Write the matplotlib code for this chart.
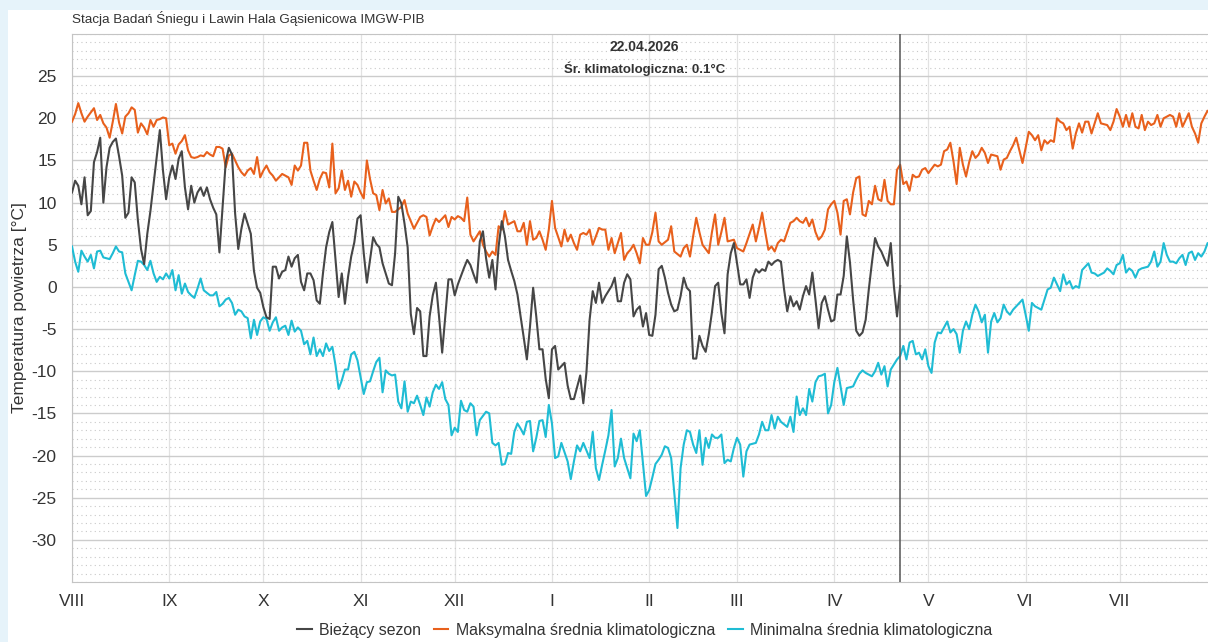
import numpy as np
import matplotlib
matplotlib.use("Agg")
import matplotlib.pyplot as plt
from matplotlib.patches import Rectangle

plt.rcParams["font.family"] = ["Liberation Sans", "DejaVu Sans"]
plt.rcParams["axes.unicode_minus"] = False

# Season runs from 1 August; one row per month
month_labels = ["VIII", "IX", "X", "XI", "XII", "I", "II", "III", "IV", "V", "VI", "VII"]
month_days = [31, 30, 31, 30, 31, 31, 28, 31, 30, 31, 30, 31]

# current season daily mean temperature (1 Aug - 22 Apr)
season = [
    11.2, 12.6, 12.0, 9.8, 13.0, 8.5, 9.0, 14.8, 16.0, 17.7, 10.0, 14.2, 16.5, 17.2, 17.6, 15.5,
    13.2, 8.2, 8.8, 13.0, 12.4, 7.9, 4.5, 2.7, 6.3, 9.0, 12.2, 15.4, 18.6, 13.8, 10.4,
    13.0, 14.4, 12.8, 15.2, 16.1, 11.8, 9.2, 12.0, 10.0, 11.2, 11.8, 10.8, 11.8, 10.4, 9.4,
    8.6, 4.1, 9.4, 14.8, 16.5, 15.7, 8.7, 4.5, 6.9, 8.7, 7.5, 6.3, 1.9, -0.1, -0.7,
    -2.4, -3.6, -3.8, 2.4, 2.4, 1.0, 1.8, 2.0, 3.6, 2.4, 3.4, 3.8, 0.6, -0.4, 1.6, 1.6,
    0.8, -1.6, -2.0, 1.6, 4.7, 6.5, 7.7, 3.2, -1.2, 1.6, -2.0, 1.2, 3.6, 5.3, 8.1,
    8.5, 4.0, 0.5, 3.2, 5.9, 5.1, 4.7, 2.8, 1.6, 0.4, 0.2, 4.0, 10.7, 9.9, 7.5,
    4.7, -3.2, -5.6, -2.5, -2.9, -8.2, -8.2, -3.5, -1.0, 0.5, -3.5, -7.8, -3.5, 0.9, 0.9,
    -1.0, 0.3, 1.3, 2.3, 3.2, 2.6, 1.5, 0.5, 5.4, 6.6, 3.4, 1.1, 3.2, -0.3, 4.8, 7.8,
    6.0, 3.2, 1.9, 0.7, -0.9, -3.5, -6.0, -8.6, -4.7, -0.1, -3.5, -7.4, -7.4, -10.9, -13.2,
    -7.4, -7.0, -9.8, -9.4, -9.0, -11.7, -13.3, -13.3, -11.9, -10.5, -13.8, -10.1, -3.9, -0.5, -1.9, 0.5,
    -1.9, -1.1, -0.5, 0.1, 1.1, -1.7, -1.7, 0.5, 1.5, 0.9, -3.5, -2.7, -2.3, -4.7, -3.1,
    -5.7, -5.8, -3.3, 2.1, 2.5, 1.1, -0.7, -2.1, -2.9, -2.7, -1.1, 1.1, -0.1, -0.5,
    -8.5, -8.5, -5.8, -7.0, -7.7, -5.6, -3.0, 0.1, 0.5, -3.1, -5.5, 1.5, 4.0, 5.2,
    2.8, 0.3, 0.3, 0.9, -1.3, 1.1, 2.1, 1.7, 2.1, 1.9, 3.0, 2.6, 3.0, 3.2, 3.0, -0.3,
    -2.9, -1.1, -2.3, -1.7, -2.7, -1.1, 0.1, -0.9, 1.7, -1.5, -4.9, -1.9, -1.1, -2.7, -4.1,
    -3.9, -0.9, -0.9, 1.3, 6.0, 2.9, -1.5, -5.2, -5.8, -5.4, -3.9,
    -0.3, 2.9, 5.8, 4.8, 4.2, 3.3, 2.5, 5.2, 0.1, -3.5, 0.1,
]

# climatological maximum of daily mean
clim_max = [
    19.6, 20.5, 21.8, 20.6, 19.6, 20.2, 20.7, 21.2, 19.8, 20.4, 19.4, 18.9, 17.7, 19.6, 21.7, 19.5,
    18.2, 20.2, 20.6, 21.3, 21.0, 18.3, 19.4, 18.9, 18.1, 19.8, 19.0, 19.8, 19.9, 20.1, 20.0,
    16.8, 17.0, 15.8, 16.9, 17.3, 18.0, 16.2, 15.4, 15.3, 15.4, 15.6, 15.5, 16.0, 15.7, 15.5,
    16.6, 16.6, 16.4, 14.2, 15.6, 15.8, 15.0, 14.2, 13.6, 13.2, 13.8, 14.1, 13.4, 15.4, 13.0,
    13.8, 14.4, 13.6, 13.2, 12.6, 13.0, 13.4, 13.2, 13.0, 12.1, 14.4, 13.8, 14.4, 17.1, 17.1, 13.8,
    12.6, 11.5, 12.8, 13.6, 13.5, 11.8, 17.0, 11.1, 11.7, 13.8, 11.5, 12.6, 10.7, 12.5, 12.1,
    11.2, 10.5, 15.0, 12.8, 11.1, 10.9, 9.1, 11.5, 9.9, 10.5, 8.9, 8.9, 9.2, 9.5, 10.3,
    8.7, 7.8, 6.9, 7.6, 8.3, 8.5, 8.3, 6.1, 7.2, 8.1, 7.7, 8.1, 8.5, 7.1, 8.3,
    8.0, 8.4, 8.2, 7.8, 10.6, 6.2, 5.4, 6.0, 6.6, 5.0, 4.2, 3.6, 4.2, 3.8, 7.2, 6.8,
    9.0, 7.4, 7.6, 7.8, 6.6, 6.6, 7.6, 5.0, 7.8, 5.6, 5.8, 6.6, 5.6, 4.4, 6.8,
    10.2, 7.0, 5.9, 4.8, 6.8, 5.4, 6.2, 5.2, 4.4, 6.2, 6.4, 6.2, 6.8, 5.0, 6.0, 7.0,
    6.8, 6.8, 4.4, 5.8, 4.0, 5.2, 6.4, 3.2, 4.0, 4.4, 5.0, 4.0, 2.8, 5.8, 5.0,
    5.0, 6.5, 8.8, 5.4, 5.0, 5.3, 5.6, 7.2, 4.2, 3.9, 3.6, 4.6, 5.0, 3.6,
    6.0, 8.2, 6.5, 5.0, 4.5, 4.0, 6.5, 8.6, 5.0, 6.5, 8.2, 5.4, 5.5, 5.6,
    4.6, 4.4, 4.2, 5.2, 6.3, 7.4, 5.4, 7.0, 8.8, 6.5, 4.4, 4.8, 4.2, 5.2, 5.6, 5.4,
    6.5, 7.6, 7.8, 8.2, 7.8, 7.6, 8.2, 7.2, 8.0, 6.5, 5.6, 6.0, 6.8, 9.2, 9.8,
    10.2, 8.8, 6.2, 10.2, 10.4, 8.6, 11.2, 12.9, 13.1, 8.6, 8.4, 10.2, 9.8, 12.0, 10.4,
    10.2, 12.7, 10.2, 9.8, 9.8, 13.9, 14.5, 12.2, 12.5, 11.4, 13.3, 13.0, 13.1, 13.9, 14.1,
    13.5, 14.0, 14.5, 14.3, 14.5, 16.1, 16.3, 17.1, 14.9, 12.2, 16.5, 14.5, 13.1, 14.8, 16.1, 15.3,
    15.7, 16.5, 15.9, 14.7, 15.7, 15.6, 15.5, 13.9, 15.1, 15.3, 16.1, 16.8, 17.7, 16.2, 14.7,
    16.5, 18.4, 18.0, 17.4, 18.0, 16.2, 17.4, 17.0, 17.4, 17.2, 20.0, 19.6, 19.4, 18.6, 19.0,
    16.4, 18.2, 19.4, 18.3, 19.6, 19.6, 18.2, 19.4, 20.6, 19.4, 19.3, 19.2, 18.6, 19.6, 21.1,
    20.2, 19.0, 20.4, 19.0, 20.6, 19.0, 18.8, 20.4, 18.6, 19.6, 19.2, 19.4, 20.4, 19.0, 20.0, 20.2,
    20.4, 20.2, 19.0, 20.6, 19.0, 19.8, 20.6, 19.0, 18.2, 17.1, 19.4, 20.2, 20.9, 20.5, 20.3,
]

# climatological minimum of daily mean
clim_min = [
    4.8, 3.0, 1.8, 4.3, 3.6, 3.0, 3.8, 2.2, 4.2, 4.3, 3.5, 3.4, 3.3, 4.0, 4.8, 4.2,
    4.1, 1.6, 0.6, -0.4, 1.4, 3.1, 3.0, 2.6, 2.0, 3.1, 1.6, 0.6, 1.2, 0.9, 1.6,
    1.0, 2.0, -0.4, 1.4, -0.8, 0.4, -0.6, -1.0, -1.3, -0.2, 1.0, -0.4, -0.7, -1.0, -1.0,
    -0.6, -2.3, -2.0, -1.5, -1.3, -1.9, -3.3, -2.7, -2.9, -3.5, -3.7, -6.1, -3.9, -5.7, -4.1,
    -3.6, -3.8, -5.2, -4.2, -3.6, -5.2, -4.8, -4.6, -5.7, -4.0, -5.3, -4.8, -5.2, -6.8, -6.4, -8.0,
    -6.0, -8.2, -7.4, -8.2, -6.7, -7.6, -7.1, -9.3, -12.1, -11.1, -9.8, -9.8, -8.0, -7.7, -8.7,
    -10.7, -12.7, -11.3, -11.2, -10.0, -8.9, -8.4, -12.5, -9.9, -10.3, -10.5, -10.4, -13.6, -14.4, -11.2,
    -14.8, -13.6, -13.8, -12.9, -14.0, -15.2, -13.1, -14.2, -12.5, -11.6, -12.1, -11.3, -13.3, -14.0, -17.6,
    -16.7, -17.2, -13.5, -14.6, -14.8, -13.8, -14.2, -17.6, -15.8, -15.3, -14.8, -15.0, -18.5, -18.8, -18.5, -21.1,
    -21.0, -19.7, -19.8, -17.2, -16.2, -16.8, -17.5, -16.0, -15.9, -19.5, -17.9, -15.9, -15.8, -17.8, -14.0,
    -16.2, -20.3, -20.1, -18.5, -19.6, -20.7, -22.8, -20.7, -18.8, -19.5, -18.5, -19.4, -20.3, -17.2, -21.5, -22.9,
    -21.1, -19.4, -17.6, -14.6, -21.3, -20.3, -18.0, -20.3, -21.5, -22.7, -17.4, -18.3, -17.0, -20.9, -24.8,
    -24.1, -22.6, -21.0, -20.5, -19.9, -18.9, -19.1, -20.3, -24.5, -28.6, -21.5, -18.7, -17.0, -17.2,
    -18.7, -19.7, -17.0, -21.1, -17.9, -19.1, -17.5, -17.9, -17.9, -17.5, -20.9, -20.5, -20.7, -19.1,
    -17.9, -18.7, -22.5, -19.5, -18.7, -18.6, -18.5, -17.5, -16.0, -17.0, -17.0, -15.2, -16.8, -15.4, -16.0, -16.3,
    -16.6, -15.4, -17.2, -13.0, -15.2, -14.4, -15.2, -12.1, -13.6, -11.3, -10.6, -10.5, -10.3, -15.0, -14.0,
    -11.3, -9.6, -11.8, -14.0, -12.0, -11.9, -11.8, -11.0, -10.3, -9.9, -10.2, -10.4, -10.6, -10.0, -9.0,
    -10.4, -9.4, -11.8, -9.8, -9.2, -8.6, -8.2, -7.0, -8.6, -6.6, -6.4, -8.0, -7.8, -8.6, -7.4,
    -9.4, -10.2, -6.6, -5.4, -5.5, -4.8, -4.1, -5.4, -5.0, -5.6, -7.8, -5.2, -4.1, -5.0, -3.3, -2.1,
    -2.9, -4.2, -3.3, -7.8, -4.1, -3.1, -4.2, -3.7, -2.1, -2.9, -3.3, -2.7, -2.3, -1.9, -1.5,
    -3.3, -5.2, -1.9, -2.3, -2.5, -2.7, -1.5, -0.3, -0.1, 1.1, 0.3, -0.5, 1.5, 0.3, 0.7,
    -0.2, 0.1, -0.1, 2.0, 2.4, 2.8, 1.7, 1.6, 1.3, 1.5, 1.7, 2.2, 1.9, 1.5, 2.6,
    2.8, 3.8, 1.7, 2.2, 1.9, 1.1, 2.0, 2.2, 2.3, 2.4, 3.0, 4.2, 2.4, 3.0, 5.2, 3.8,
    3.0, 3.0, 2.8, 3.4, 3.8, 2.6, 4.0, 4.2, 3.2, 4.0, 3.6, 4.2, 5.2, 4.8, 5.0,
]

station = "Stacja Badań Śniegu i Lawin Hala Gąsienicowa IMGW-PIB"
today_label = "22.04.2026"
clim_today = 0.1

W, H = 1208, 642
fig = plt.figure(figsize=(W / 100, H / 100), dpi=100, facecolor="#e6f3fa")
fig.patches.append(Rectangle((8 / W, 0), 1, (H - 10) / H, transform=fig.transFigure,
                             facecolor="white", edgecolor="none", zorder=-10))

ax = fig.add_axes([72 / W, 60 / H, 1145 / W, 548 / H])
ax.set_facecolor("white")

days = np.arange(len(clim_max))
month_starts = np.cumsum([0] + month_days[:-1])
today_idx = len(season) - 1

ax.plot(days, clim_max, color="#e8601c", lw=1.5, zorder=3, label="Maksymalna średnia klimatologiczna")
ax.plot(days, clim_min, color="#1fbcd4", lw=1.5, zorder=3, label="Minimalna średnia klimatologiczna")
ax.plot(days[:len(season)], season, color="#464646", lw=1.5, zorder=4, label="Bieżący sezon")
ax.axvline(today_idx, color="#555555", lw=1.1, zorder=5)

ax.set_xlim(0, 365)
ax.set_ylim(-35, 30)
ax.set_xticks(month_starts, month_labels)
ax.set_yticks(np.arange(-30, 30, 5))
ax.set_yticks(np.arange(-35, 31, 1), minor=True)
ax.grid(axis="y", which="minor", color="#c8c8c8", lw=0.8, ls=(0, (1, 3)))
ax.grid(axis="y", which="major", color="#cccccc", lw=1.0, ls="-")
ax.grid(axis="x", which="major", color="#e2e2e2", lw=0.9)
ax.set_axisbelow(True)
ax.tick_params(which="both", length=0, labelsize=12.5, colors="#333333")
ax.tick_params(axis="y", pad=11)
ax.tick_params(axis="x", pad=9)
for side in ("left", "top", "bottom"):
    ax.spines[side].set_color("#c4c4c4")
ax.spines["right"].set_visible(False)

ax.set_ylabel("Temperatura powietrza [°C]", fontsize=12.5, color="#333333", labelpad=3)

ax.text(0.5, 0.977, today_label, transform=ax.transAxes, ha="center", va="center",
        fontsize=10, fontweight="bold", color="#333333")
ax.text(0.5, 0.937, f"Śr. klimatologiczna: {clim_today}°C", transform=ax.transAxes,
        ha="center", va="center", fontsize=9.5, fontweight="bold", color="#333333")

fig.text(72 / W, 1 - 18 / H, station, fontsize=9.7, color="#333333", va="center", ha="left")

handles, labels = ax.get_legend_handles_labels()
order = [2, 0, 1]
fig.legend([handles[i] for i in order], [labels[i] for i in order], loc="lower center",
           bbox_to_anchor=(645 / W, -0.016), ncol=3, frameon=False, fontsize=11.4,
           handlelength=0.9, handletextpad=0.5, columnspacing=0.8, labelcolor="#333333")

fig.savefig("out.png", dpi=100, facecolor=fig.get_facecolor())
